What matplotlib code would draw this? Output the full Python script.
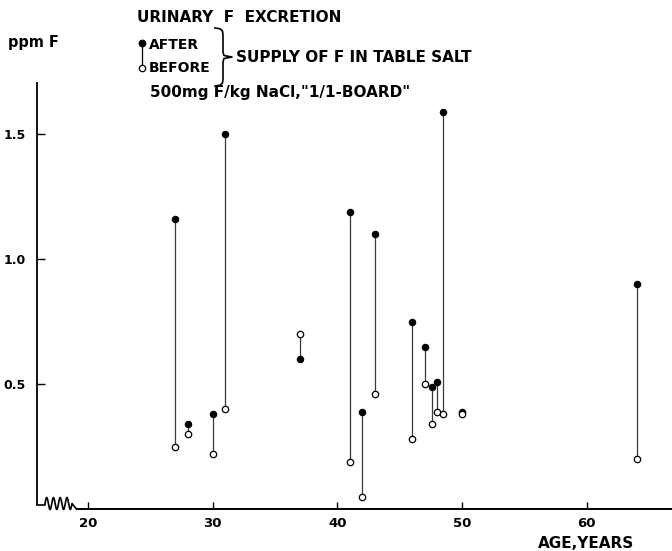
import numpy as np
import matplotlib
matplotlib.use("Agg")
import matplotlib.pyplot as plt

# ---- data ----
ages = [27, 28, 30, 31, 37, 41, 42, 43, 46, 47, 47.6, 48, 48.5, 50, 64]
after = [1.16, 0.34, 0.38, 1.50, 0.60, 1.19, 0.39, 1.10, 0.75, 0.65, 0.49, 0.51, 1.59, 0.39, 0.90]
before = [0.25, 0.30, 0.22, 0.40, 0.70, 0.19, 0.05, 0.46, 0.28, 0.50, 0.34, 0.39, 0.38, 0.38, 0.20]
x_ticks = [20, 30, 40, 50, 60]
y_ticks = [0.5, 1.0, 1.5]
y_ticklabels = ["0.5", "1.0", "1.5"]

W, H = 672, 551
plt.rcParams['font.family'] = ['DejaVu Sans']
fig = plt.figure(figsize=(W / 100, H / 100), dpi=100)

# main axes, pixel geometry of the reference
L, R, T, B = 37, 672, 82, 509
ax = fig.add_axes([L / W, (H - B) / H, (R - L) / W, (B - T) / H])
px_per_year = 12.47
ax.set_xlim(20 + (L - 88) / px_per_year, 20 + (R - 88) / px_per_year)
ax.set_ylim(0, (B - T) / 250.0)
for s in ax.spines.values():
    s.set_visible(False)
ax.set_xticks(x_ticks)
ax.set_xticklabels([str(t) for t in x_ticks])
ax.set_yticks(y_ticks)
ax.set_yticklabels(y_ticklabels)
ax.tick_params(axis='x', direction='in', length=5, width=1.0, pad=6,
               labelsize=9.5)
ax.tick_params(axis='y', direction='in', length=6, width=1.0, pad=8,
               labelsize=9)
for lab in ax.get_xticklabels() + ax.get_yticklabels():
    lab.set_fontweight('bold')

line_col = '#3a3a3a'
for a, af, bf in zip(ages, after, before):
    ax.plot([a, a], [bf, af], color=line_col, lw=0.9, zorder=2, clip_on=False)
ax.plot(ages, after, 'o', ms=4.6, mfc='black', mec='black', mew=0.8,
        zorder=3, clip_on=False)
ax.plot(ages, before, 'o', ms=4.6, mfc='white', mec='black', mew=0.9,
        zorder=3, clip_on=False)

# overlay in pixel coordinates for axis lines and annotations
ov = fig.add_axes([0, 0, 1, 1], zorder=5)
ov.set_xlim(0, W)
ov.set_ylim(H, 0)
ov.axis('off')
ov.patch.set_alpha(0)

# y axis with broken bottom (squiggle) and x axis
ov.plot([L, L], [T, 505], color='black', lw=1.3, solid_capstyle='butt')
xs = np.linspace(45, 72, 300)
ys = 503.5 - 6.0 * np.sin(2 * np.pi * (xs - 45) / 6.75)
sq_x = np.concatenate([[L, 45], xs, [76]])
sq_y = np.concatenate([[505, 505], ys, [508.5]])
ov.plot(sq_x, sq_y, color='black', lw=1.2)
ov.plot([76, R], [508.5, 508.5], color='black', lw=1.4, solid_capstyle='butt')

renderer = fig.canvas.get_renderer()


def fit_text(x0, x1, y, s, size, va='center', lo=0.85, hi=1.1):
    t = ov.text(x0, y, s, fontsize=size, fontweight='bold', ha='left',
                va=va, color='black')
    bb = t.get_window_extent(renderer=renderer)
    factor = (x1 - x0) / bb.width
    factor = max(lo, min(hi, factor))
    t.set_fontsize(size * factor)
    return t


fit_text(8, 60, 43, "ppm F", 9.5)
fit_text(137, 354, 18, "URINARY  F  EXCRETION", 10)
ov.text(149, 45, "AFTER", fontsize=10, fontweight='bold', ha='left', va='center')
ov.text(149, 68, "BEFORE", fontsize=10, fontweight='bold', ha='left', va='center')
fit_text(236, 518, 57, "SUPPLY OF F IN TABLE SALT", 10)
fit_text(150, 418, 92, '500mg F/kg NaCl,"1/1-BOARD"', 10)
fit_text(538, 648, 543, "AGE,YEARS", 10)

# legend marks
ov.plot([142, 142], [43, 68], color='black', lw=0.9)
ov.plot([142], [43], 'o', ms=4.6, mfc='black', mec='black')
ov.plot([142], [68], 'o', ms=4.6, mfc='white', mec='black', mew=0.9)

# brace
bx0 = 215
brace_x = [bx0, bx0 + 5, bx0 + 7.5, bx0 + 8, bx0 + 8, bx0 + 9, bx0 + 17,
           bx0 + 9, bx0 + 8, bx0 + 8, bx0 + 7.5, bx0 + 5, bx0]
brace_y = [28, 28.8, 31, 35, 52, 55.5, 57, 58.5, 62, 79, 83, 85.2, 86]
ov.plot(brace_x, brace_y, color='black', lw=1.2)

fig.savefig("out.png", dpi=100)
